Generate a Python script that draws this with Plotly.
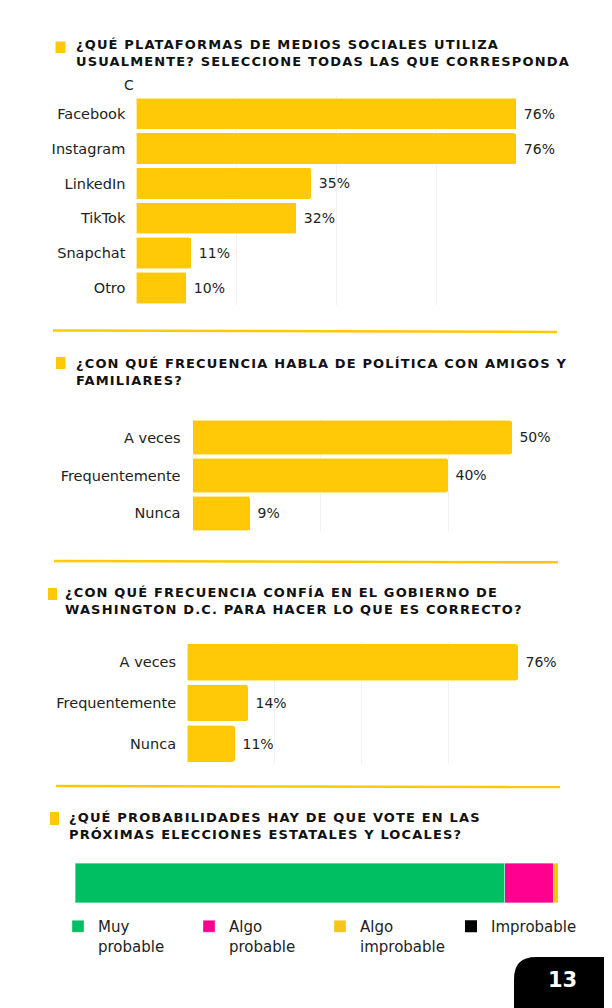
import plotly.graph_objects as go

# page is photographed at 612x1008; the browser adds an 8px body margin,
# so the figure itself is 8px smaller and coordinates are given in page pixels.
PAGE_W, PAGE_H, OFF = 612, 1008, 8
W, H = PAGE_W - OFF, PAGE_H - OFF


def px(x):
    return (x - OFF) / W


def py(y):
    return 1 - (y - OFF) / H


# ---------------- data ----------------
social_cats = ["Facebook", "Instagram", "LinkedIn", "TikTok", "Snapchat", "Otro"]
social_vals = [76, 76, 35, 32, 11, 10]

talk_cats = ["A veces", "Frequentemente", "Nunca"]
talk_vals = [50, 40, 9]

trust_cats = ["A veces", "Frequentemente", "Nunca"]
trust_vals = [76, 14, 11]

vote_names = ["Muy<br>probable", "Algo<br>probable", "Algo<br>improbable", "Improbable"]
vote_vals = [89, 10, 1, 0]

title_lines = [
    ["¿QUÉ PLATAFORMAS DE MEDIOS SOCIALES UTILIZA",
     "USUALMENTE? SELECCIONE TODAS LAS QUE CORRESPONDA"],
    ["¿CON QUÉ FRECUENCIA HABLA DE POLÍTICA CON AMIGOS Y",
     "FAMILIARES?"],
    ["¿CON QUÉ FRECUENCIA CONFÍA EN EL GOBIERNO DE",
     "WASHINGTON D.C. PARA HACER LO QUE ES CORRECTO?"],
    ["¿QUÉ PROBABILIDADES HAY DE QUE VOTE EN LAS",
     "PRÓXIMAS ELECCIONES ESTATALES Y LOCALES?"],
]

# ---------------- styles ----------------
YELLOW = "#FFC908"
VOTE_COLORS = ["#00BF63", "#FF0090", "#F5C518", "#000000"]
TXT = "#222222"
FONT = "DejaVu Sans"
GRID = "#F1F1F1"

fig = go.Figure()


def add_hbar(cats, vals, ax):
    fig.add_trace(go.Bar(
        y=cats, x=vals, orientation="h",
        xaxis="x" + ax, yaxis="y" + ax,
        marker=dict(color=YELLOW, line=dict(color="rgba(255,255,255,0.7)", width=0.8),
                    cornerradius=2),
        text=["\u00a0" + f"{v}%" for v in vals],
        textposition="outside", cliponaxis=False, constraintext="none",
        textfont=dict(family=FONT, size=14, color=TXT),
        showlegend=False, hoverinfo="skip",
    ))


add_hbar(social_cats, social_vals, "")
add_hbar(talk_cats, talk_vals, "2")
add_hbar(trust_cats, trust_vals, "3")

for name, val, col in zip(vote_names, vote_vals, VOTE_COLORS):
    fig.add_trace(go.Bar(
        y=["voto"], x=[val], orientation="h", name=name,
        xaxis="x4", yaxis="y4",
        marker=dict(color=col, line=dict(color="rgba(255,255,255,0.6)", width=0.6 if val else 0)),
        hoverinfo="skip", showlegend=True,
    ))


def xaxis(x0, x1, pxper, grid=True):
    return dict(domain=[px(x0), px(x1)], range=[0, (x1 - x0) / pxper],
                showgrid=grid, gridcolor=GRID, gridwidth=1, dtick=20,
                zeroline=False, showline=False, showticklabels=False, ticks="",
                fixedrange=True)


def yaxis(cats, y_top, y_bot, anchor, standoff=10):
    return dict(domain=[py(y_bot), py(y_top)], type="category",
                categoryorder="array", categoryarray=cats, autorange="reversed",
                showgrid=False, zeroline=False, showline=False, ticks="",
                ticklabelstandoff=standoff, anchor=anchor,
                tickfont=dict(family=FONT, size=14.5, color=TXT), fixedrange=True)


layout = dict(
    width=W, height=H, margin=dict(l=0, r=0, t=0, b=0),
    paper_bgcolor="white", plot_bgcolor="white",
    barmode="stack", bargap=0.1,
    font=dict(family=FONT, color=TXT),
    xaxis=xaxis(136.4, 530, 5.0) | dict(anchor="y"),
    yaxis=yaxis(social_cats, 96.4, 305.4, "x", 10),
    xaxis2=xaxis(192.5, 530, 6.39) | dict(anchor="y2"),
    yaxis2=yaxis(talk_cats, 418.5, 532.4, "x2", 11),
    xaxis3=xaxis(187.1, 530, 4.355) | dict(anchor="y3"),
    yaxis3=yaxis(trust_cats, 641.9, 764.2, "x3", 10),
    xaxis4=xaxis(75, 558, 4.83, grid=False) | dict(range=[0, 100], anchor="y4"),
    yaxis4=dict(domain=[py(905.2), py(860.8)], type="category", showticklabels=False,
                showgrid=False, zeroline=False, showline=False, anchor="x4", fixedrange=True),
    legend=dict(orientation="h", x=px(58), xanchor="left", y=py(910), yanchor="top",
                traceorder="normal", valign="top", entrywidth=86, entrywidthmode="pixels",
                font=dict(family=FONT, size=15, color=TXT), bgcolor="rgba(0,0,0,0)"),
)
fig.update_layout(**layout)

# ---------------- titles ----------------
title_pos = [  # (marker x0, x1, y0, y1), text x, centre y of the two lines
    ((55.5, 65.5, 41.5, 53), 74, 53.5),
    ((56, 65.5, 357, 369), 74, 371.8),
    ((48, 57, 588, 600), 63, 600.6),
    ((50, 59, 812, 825), 66.5, 826.2),
]
for lines, (mk, tx, cy) in zip(title_lines, title_pos):
    fig.add_shape(type="rect", xref="paper", yref="paper",
                  x0=px(mk[0]), x1=px(mk[1]), y0=py(mk[3]), y1=py(mk[2]),
                  fillcolor=YELLOW, line_width=0)
    txt = "<br>".join(f"<span style='letter-spacing:1.15px'><b>{ln}</b></span>" for ln in lines)
    fig.add_annotation(x=px(tx), y=py(cy), xref="paper", yref="paper",
                       xanchor="left", yanchor="middle", align="left", text=txt,
                       showarrow=False,
                       font=dict(family=FONT, size=13, color="#111111"))

# stray clipped glyph above the first chart
fig.add_annotation(x=px(129), y=py(85), xref="paper", yref="paper", text="C",
                   showarrow=False, xanchor="center", yanchor="middle",
                   font=dict(family=FONT, size=14, color=TXT))

# separators
for (x0, y0, x1, y1) in [(53, 330.5, 557, 332), (54, 561, 558, 562.3), (56, 786, 560, 787)]:
    fig.add_shape(type="line", xref="paper", yref="paper",
                  x0=px(x0), y0=py(y0), x1=px(x1), y1=py(y1),
                  line=dict(color=YELLOW, width=2.5))

# page number tab
bx0, by0, bx1, by1, r = 514, 957, 612, 1008, 22
path = (f"M {px(bx0)},{py(by1)} L {px(bx0)},{py(by0 + r)} "
        f"Q {px(bx0)},{py(by0)} {px(bx0 + r)},{py(by0)} "
        f"L {px(bx1)},{py(by0)} L {px(bx1)},{py(by1)} Z")
fig.add_shape(type="path", path=path, xref="paper", yref="paper",
              fillcolor="#000000", line_width=0)
fig.add_annotation(x=px(562), y=py(979.5), xref="paper", yref="paper", text="<b>13</b>",
                   showarrow=False, xanchor="center", yanchor="middle",
                   font=dict(family=FONT, size=21, color="white"))

fig.write_html("out.html")
